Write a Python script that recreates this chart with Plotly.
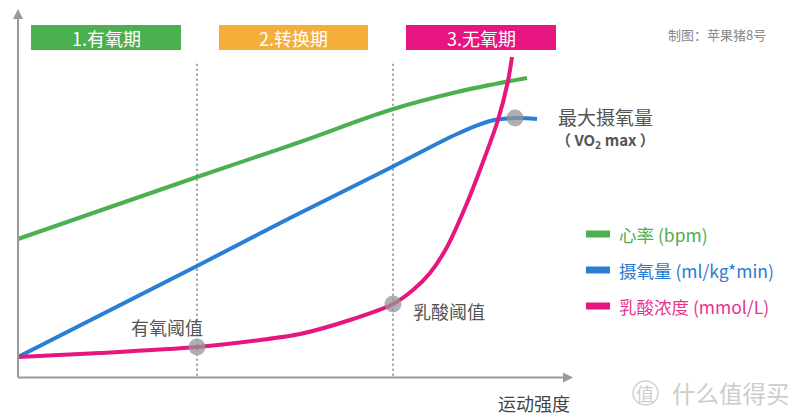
import plotly.graph_objects as go

# ---------------- data (exercise intensity 0-100, arbitrary units 0-100) ----------------
intensity_hr = [0, 32.31, 50.90, 67.15, 79.24, 91.88]
heart_rate = [37.98, 54.92, 64.48, 73.22, 78.14, 81.97]

intensity_vo2 = [0, 32.31, 49.10, 67.15, 79.24, 85.20, 89.71, 93.68]
vo2 = [5.74, 30.60, 43.72, 57.38, 66.67, 70.22, 71.04, 70.77]

intensity_la = [0, 14.80, 32.31, 43.68, 50.90, 59.93, 67.69, 71.30, 74.37, 77.44,
                81.05, 83.39, 86.64, 88.45, 89.17]
lactate = [5.74, 6.83, 8.47, 10.38, 12.02, 15.85, 20.22, 24.04, 28.69, 35.79,
           47.81, 56.83, 70.49, 81.15, 87.70]

threshold_x = [32.31, 67.69, 89.71]
threshold_y = [8.47, 20.22, 71.04]
threshold_names = ["有氧阈值", "乳酸阈值", "最大摄氧量"]

phase_names = ["1.有氧期", "2.转换期", "3.无氧期"]
series_names = ["心率 (bpm)", "摄氧量 (ml/kg*min)", "乳酸浓度 (mmol/L)"]
x_title = "运动强度"
credit = "制图：苹果猪8号"

# ---------------- styling ----------------
GREEN, BLUE, PINK = "#4caf50", "#2a7fd4", "#e6157f"
TEXT_COLORS = ["#4cae4f", "#2b7bd0", "#e8338c"]
FONT = "Noto Sans CJK SC"
AXIS_C = "#9a9a9a"

W, H = 800, 420
PL, PR, PT, PB = 18, 572, 12, 378  # plot area in pixels


def fx(p):
    return (p - PL) / (PR - PL)


def fy(p):
    return (PB - p) / (PB - PT)


fig = go.Figure()

# dotted phase separators at thresholds
for tx in threshold_x[:2]:
    fig.add_trace(go.Scatter(x=[tx, tx], y=[0.6, 86.5], mode="lines",
                             line=dict(color="#a0a0a0", width=2, dash="2px,3px"),
                             hoverinfo="skip", showlegend=False))

fig.add_trace(go.Scatter(x=intensity_hr, y=heart_rate, mode="lines", name=series_names[0],
                         line=dict(color=GREEN, width=4, shape="spline", smoothing=1.0),
                         showlegend=False))
fig.add_trace(go.Scatter(x=intensity_vo2, y=vo2, mode="lines", name=series_names[1],
                         line=dict(color=BLUE, width=4, shape="spline", smoothing=0.9),
                         showlegend=False))
fig.add_trace(go.Scatter(x=intensity_la, y=lactate, mode="lines", name=series_names[2],
                         line=dict(color=PINK, width=4, shape="spline", smoothing=0.8),
                         showlegend=False))

fig.add_trace(go.Scatter(x=threshold_x, y=threshold_y, mode="markers",
                         marker=dict(size=17, color="rgba(150,150,150,0.75)"),
                         hoverinfo="skip", showlegend=False))

shapes = []
annotations = []

# axes with arrowheads
ax_y = 377.5
shapes.append(dict(type="line", xref="paper", yref="paper",
                   x0=fx(18), x1=fx(565), y0=fy(ax_y), y1=fy(ax_y),
                   line=dict(color=AXIS_C, width=2)))
shapes.append(dict(type="path", xref="paper", yref="paper",
                   path=f"M {fx(573)},{fy(ax_y)} L {fx(563)},{fy(ax_y - 5)} L {fx(563)},{fy(ax_y + 5)} Z",
                   fillcolor=AXIS_C, line=dict(width=0)))
shapes.append(dict(type="line", xref="paper", yref="paper",
                   x0=fx(18), x1=fx(18), y0=fy(ax_y), y1=fy(17),
                   line=dict(color=AXIS_C, width=2)))
shapes.append(dict(type="path", xref="paper", yref="paper",
                   path=f"M {fx(18)},{fy(9)} L {fx(13)},{fy(19)} L {fx(23)},{fy(19)} Z",
                   fillcolor=AXIS_C, line=dict(width=0)))

# phase banners
banner_px = [(31, 181, GREEN), (219, 368, "#f5ae3a"), (406, 556, "#e6157f")]
for (x0, x1, c), name in zip(banner_px, phase_names):
    shapes.append(dict(type="rect", xref="paper", yref="paper",
                       x0=fx(x0), x1=fx(x1), y0=fy(50), y1=fy(25),
                       fillcolor=c, line=dict(width=0), layer="below"))
    annotations.append(dict(xref="paper", yref="paper", x=fx((x0 + x1) / 2), y=fy(37.5),
                            text=name, showarrow=False, xanchor="center", yanchor="middle",
                            font=dict(family=FONT, size=18, color="white")))

# custom legend
leg_y = [234, 270, 306]
for i, (c, tc, name) in enumerate(zip([GREEN, BLUE, PINK], TEXT_COLORS, series_names)):
    shapes.append(dict(type="rect", xref="paper", yref="paper",
                       x0=fx(586), x1=fx(610), y0=fy(leg_y[i] + 3.5), y1=fy(leg_y[i] - 3.5),
                       fillcolor=c, line=dict(width=0)))
    annotations.append(dict(xref="paper", yref="paper", x=fx(617), y=fy(leg_y[i]),
                            text=name, showarrow=False, xanchor="left", yanchor="middle",
                            font=dict(family=FONT, size=17.5, color=tc)))

# threshold labels
annotations.append(dict(xref="paper", yref="paper", x=fx(129), y=fy(327), text=threshold_names[0],
                        showarrow=False, xanchor="left", yanchor="middle",
                        font=dict(family=FONT, size=18, color="#555555")))
annotations.append(dict(xref="paper", yref="paper", x=fx(411), y=fy(311), text=threshold_names[1],
                        showarrow=False, xanchor="left", yanchor="middle",
                        font=dict(family=FONT, size=18, color="#555555")))
annotations.append(dict(xref="paper", yref="paper", x=fx(556), y=fy(116), text=threshold_names[2],
                        showarrow=False, xanchor="left", yanchor="middle",
                        font=dict(family=FONT, size=19, color="#555555")))
annotations.append(dict(xref="paper", yref="paper", x=fx(605), y=fy(141),
                        text="<b>（ VO<sub>2</sub> max ）</b>",
                        showarrow=False, xanchor="center", yanchor="middle",
                        font=dict(family=FONT, size=15, color="#555555")))

# credit, axis title, watermark
annotations.append(dict(xref="paper", yref="paper", x=fx(768), y=fy(35), text=credit,
                        showarrow=False, xanchor="right", yanchor="middle",
                        font=dict(family=FONT, size=13, color="#888888")))
annotations.append(dict(xref="paper", yref="paper", x=fx(572), y=fy(403), text=x_title,
                        showarrow=False, xanchor="right", yanchor="middle",
                        font=dict(family=FONT, size=18, color="#444444")))
annotations.append(dict(xref="paper", yref="paper", x=fx(670), y=fy(393), text="什么值得买",
                        showarrow=False, xanchor="left", yanchor="middle",
                        font=dict(family=FONT, size=23.5, color="#cccccc")))
annotations.append(dict(xref="paper", yref="paper", x=fx(645), y=fy(393), text="值",
                        showarrow=False, xanchor="center", yanchor="middle",
                        font=dict(family=FONT, size=18, color="#cccccc")))
shapes.append(dict(type="circle", xref="paper", yref="paper",
                   x0=fx(633), x1=fx(658), y0=fy(405), y1=fy(381),
                   line=dict(color="#d0d0d0", width=1.5)))

fig.update_layout(
    width=W, height=H,
    margin=dict(l=PL, r=W - PR, t=PT, b=H - PB, pad=0),
    paper_bgcolor="white", plot_bgcolor="white",
    xaxis=dict(range=[0, 100], visible=False, fixedrange=True),
    yaxis=dict(range=[0, 100], visible=False, fixedrange=True),
    shapes=shapes, annotations=annotations,
    showlegend=False,
)

fig.write_html("out.html", config={"displayModeBar": False},
               post_script="document.body.style.margin='0';")
